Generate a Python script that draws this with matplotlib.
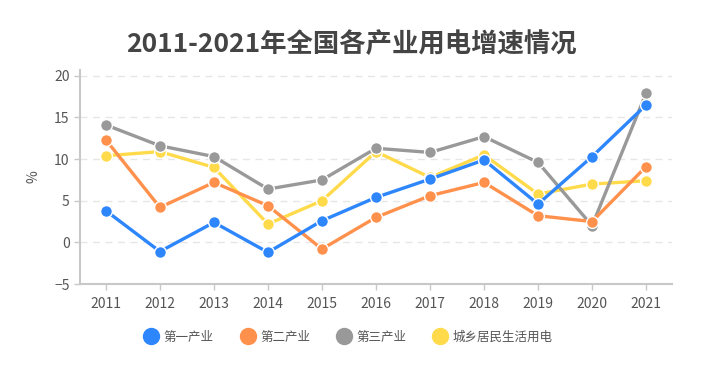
import matplotlib.pyplot as plt
from matplotlib.lines import Line2D

plt.rcParams['font.family'] = ['Noto Sans CJK SC', 'DejaVu Sans']
plt.rcParams['axes.unicode_minus'] = True

# =====================================================
# DATA
# =====================================================

years = [2011, 2012, 2013, 2014, 2015, 2016, 2017, 2018, 2019, 2020, 2021]
year_labels = [str(y) for y in years]

primary = [3.8, -1.1, 2.4, -1.2, 2.6, 5.4, 7.6, 9.9, 4.6, 10.3, 16.5]
secondary = [12.3, 4.2, 7.2, 4.4, -0.8, 3.0, 5.6, 7.2, 3.2, 2.5, 9.1]
tertiary = [14.1, 11.6, 10.3, 6.4, 7.5, 11.3, 10.8, 12.7, 9.6, 2.0, 17.9]
residential = [10.4, 10.9, 9.0, 2.2, 5.0, 10.9, 7.8, 10.5, 5.8, 7.0, 7.4]

series_names = ["第一产业", "第二产业", "第三产业", "城乡居民生活用电"]
series_values = [primary, secondary, tertiary, residential]
colors = ["#2E86FD", "#FF914D", "#999999", "#FFDB4C"]

# =====================================================
# PLOT
# =====================================================

fig = plt.figure(figsize=(7.02, 3.82), dpi=100)
ax = fig.add_axes([80 / 702, 98 / 382, 592 / 702, 214 / 382])

x = list(range(len(years)))
# draw in reverse so the first series sits on top
for name, vals, c in reversed(list(zip(series_names, series_values, colors))):
    ax.plot(x, vals, color=c, linewidth=2.4, marker="o", markersize=8.5,
            markeredgecolor="white", markeredgewidth=1.0, label=name, zorder=3)

ax.set_xlim(-0.48, len(years) - 1 + 0.48)
ax.set_ylim(-5, 20.7)
ax.set_yticks([-5, 0, 5, 10, 15, 20])
ax.set_xticks(x)
ax.set_xticklabels(year_labels)

for v in [0, 5, 10, 15, 20]:
    ax.axhline(v, color="#E6E6E6", linewidth=1, linestyle=(0, (5, 4)), zorder=1)

for side in ["top", "right"]:
    ax.spines[side].set_visible(False)
ax.spines["left"].set_color("#C8C8C8")
ax.spines["bottom"].set_color("#C8C8C8")
ax.spines["left"].set_linewidth(1.5)
ax.spines["bottom"].set_linewidth(1.5)
ax.tick_params(axis="both", colors="#C8C8C8", labelcolor="#555555",
               labelsize=10, length=4, width=1)
ax.tick_params(axis="x", pad=5)

ax.set_ylabel("%", color="#555555", fontsize=10, labelpad=10)

fig.text(0.5, 1 - 44 / 382, "2011-2021年全国各产业用电增速情况",
         ha="center", va="center", fontsize=19, fontweight="bold",
         color="#444444")

handles = [Line2D([], [], linestyle="none", marker="o", markersize=11.5,
                  markerfacecolor=c, markeredgecolor=c) for c in colors]
fig.legend(handles, series_names, loc="center", ncol=4,
           bbox_to_anchor=(0.497, 1 - 337 / 382), frameon=False,
           fontsize=9, labelcolor="#555555", handletextpad=0.5,
           columnspacing=2.2, handlelength=1.0)

fig.savefig("out.png", dpi=100)
